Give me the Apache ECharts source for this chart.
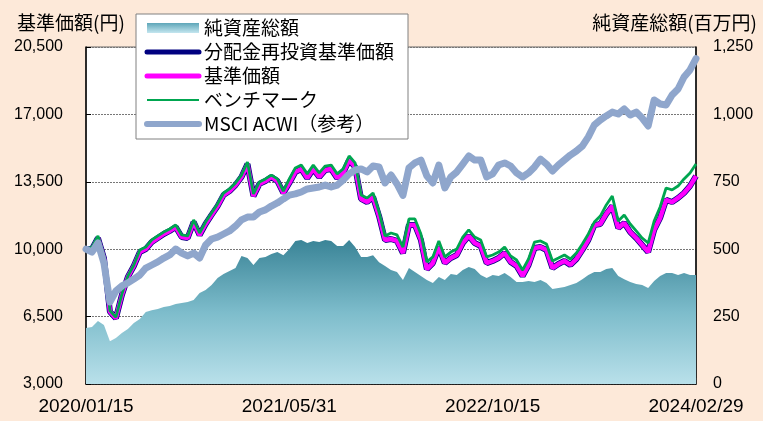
<!DOCTYPE html>
<html>
<head>
<meta charset="utf-8">
<script src="https://cdn.jsdelivr.net/npm/echarts@6/dist/echarts.min.js"></script>
<style>
  html, body { margin: 0; padding: 0; background: #fde9d9; }
  #chart { width: 763px; height: 421px; }
</style>
</head>
<body>
<div id="chart"></div>
<script>
// x軸の目盛ラベル（34点ごと）
const dateLabels = ['2020/01/15', '2021/05/31', '2022/10/15', '2024/02/29']
const labelStep = 34
const leftTicks = [3000, 6500, 10000, 13500, 17000, 20500]

// 基準価額（分配金再投資基準価額も同値）
const navValues = [
  10000, 10010, 10580, 9540, 6750, 6420, 7620, 8560, 9130, 9850,
  10010, 10370, 10580, 10790, 10950, 11150, 10630, 10580, 11410, 10740,
  11310, 11780, 12240, 12810, 13020, 13330, 13750, 14420, 12760, 13390,
  13540, 13750, 13540, 12920, 13440, 14010, 14160, 13700, 14160, 13750,
  14110, 14160, 13700, 13960, 14630, 14270, 12610, 12450, 12710, 11720,
  10480, 10530, 10430, 9800, 11260, 11260, 10480, 8960, 9280, 10110,
  9280, 9540, 9700, 10320, 10690, 10320, 10170, 9280, 9390, 9540,
  9800, 9340, 9130, 8610, 9180, 10060, 10110, 9960, 9020, 9230,
  9390, 9180, 9490, 9960, 10480, 11250, 11310, 11830, 12240, 11100,
  11360, 10890, 10580, 10220, 9850, 11000, 11620, 12560, 12450, 12660,
  12920, 13280, 13800
]
// ベンチマーク
const benchValues = [
  10000, 10110, 10690, 9650, 6800, 6470, 7670, 8610, 9180, 9960,
  10110, 10480, 10690, 10890, 11050, 11260, 10740, 10690, 11520, 10840,
  11410, 11880, 12350, 12920, 13130, 13440, 13850, 14530, 12870, 13490,
  13650, 13850, 13650, 13020, 13650, 14220, 14370, 13910, 14370, 13960,
  14320, 14370, 13910, 14170, 14840, 14480, 12820, 12660, 12920, 11930,
  10690, 10840, 10740, 10110, 11570, 11570, 10790, 9340, 9600, 10430,
  9600, 9850, 10010, 10630, 11000, 10630, 10480, 9600, 9700, 9850,
  10110, 9650, 9440, 8920, 9490, 10370, 10430, 10270, 9390, 9540,
  9700, 9490, 9800, 10270, 10790, 11410, 11720, 12300, 12760, 11460,
  11780, 11310, 10950, 10580, 10320, 11460, 12190, 13180, 13080, 13280,
  13650, 13960, 14420
]
// MSCI ACWI（参考）
const msciValues = [
  10000, 9850, 10320, 9280, 7260, 7830, 8090, 8250, 8450, 8660,
  9020, 9180, 9340, 9540, 9700, 10010, 9800, 9650, 9800, 9540,
  10220, 10530, 10630, 10790, 10950, 11200, 11520, 11670, 11670, 11930,
  12040, 12240, 12400, 12610, 12810, 12870, 12970, 13130, 13180, 13230,
  13330, 13230, 13330, 13590, 13910, 14110, 14170, 14010, 14320, 14270,
  13440, 13850, 13390, 12800, 14220, 14480, 14630, 13800, 13440, 14370,
  13180, 13750, 14010, 14420, 14840, 14630, 14630, 13750, 13910, 14370,
  14480, 14320, 13960, 13750, 13960, 14270, 14680, 14420, 14060, 14370,
  14630, 14890, 15100, 15360, 15830, 16450, 16710, 16920, 17120, 17020,
  17280, 16970, 17120, 16810, 16400, 17750, 17540, 17490, 18010, 18320,
  18940, 19310, 19900
]
// 純資産総額（百万円）
const assetValues = [
  208, 211, 234, 219, 159, 171, 189, 204, 226, 241,
  267, 274, 278, 286, 289, 297, 300, 304, 312, 338,
  349, 367, 393, 408, 419, 430, 475, 467, 441, 467,
  471, 482, 490, 478, 501, 530, 534, 523, 530, 527,
  534, 530, 512, 512, 534, 508, 471, 471, 478, 452,
  438, 423, 415, 386, 430, 415, 401, 386, 375, 397,
  386, 408, 404, 423, 434, 427, 404, 393, 404, 401,
  412, 397, 378, 378, 382, 378, 386, 375, 352, 356,
  360, 367, 375, 389, 404, 415, 415, 427, 430, 401,
  389, 378, 371, 367, 356, 382, 401, 412, 412, 404,
  412, 404, 404
]

const jpFont = '"Noto Sans CJK JP", sans-serif'
const numFont = '"Liberation Sans", Arial, sans-serif'
const categories = navValues.map((v, i) => i)
const showTick = (i) => i % labelStep === 0

const areaColor = new echarts.graphic.LinearGradient(0, 0, 0, 1, [
    { offset: 0, color: '#3a8497' },
    { offset: 0.5, color: '#7dbccb' },
    { offset: 1, color: '#b9e0ea' }
])
const legendAreaColor = new echarts.graphic.LinearGradient(0, 0, 0, 1, [
    { offset: 0, color: '#5ea6b8' },
    { offset: 1, color: '#c4e6ef' }
])
// 凡例の線アイコンは記号なし
const noMarker = { opacity: 0, borderWidth: 0 }

const chart = echarts.init(document.getElementById('chart'))

const option = {
    animation: false,
    backgroundColor: '#fde9d9',
    title: [
        {
            text: '基準価額(円)', left: 12, top: 8,
            textStyle: { fontFamily: jpFont, fontSize: 19, fontWeight: 'normal', color: '#000' }
        },
        {
            text: '純資産総額(百万円)', right: 1, top: 8,
            textStyle: { fontFamily: jpFont, fontSize: 19, fontWeight: 'normal', color: '#000' }
        }
    ],
    legend: {
        orient: 'vertical',
        left: 136,
        top: 14,
        padding: [4, 14, 5, 8],
        itemGap: 4,
        itemWidth: 52,
        itemHeight: 10,
        itemTextGap: 5,
        backgroundColor: '#fff',
        borderColor: '#808080',
        borderWidth: 1,
        textStyle: { fontFamily: jpFont, fontSize: 19, color: '#000', lineHeight: 20 },
        data: [
            { name: '純資産総額', icon: 'rect', itemStyle: { color: legendAreaColor } },
            { name: '分配金再投資基準価額', itemStyle: noMarker, lineStyle: { width: 5, cap: 'round' } },
            { name: '基準価額', itemStyle: noMarker, lineStyle: { width: 5, cap: 'round' } },
            { name: 'ベンチマーク', itemStyle: noMarker, lineStyle: { width: 2 } },
            { name: 'MSCI ACWI（参考）', itemStyle: noMarker, lineStyle: { width: 6, cap: 'round' } }
        ]
    },
    grid: {
        left: 86, right: 67, top: 47, bottom: 37,
        show: true, backgroundColor: '#fff', borderColor: '#666', borderWidth: 1
    },
    xAxis: {
        type: 'category',
        data: categories,
        boundaryGap: false,
        axisLine: { lineStyle: { color: '#000', width: 1.5 } },
        axisTick: { inside: true, length: 6, interval: showTick, lineStyle: { color: '#333' } },
        axisLabel: {
            interval: showTick,
            formatter: (v, i) => dateLabels[i / labelStep],
            fontFamily: numFont, fontSize: 19, color: '#000', margin: 13, lineHeight: 20
        },
        splitLine: { show: false }
    },
    yAxis: [
        {
            type: 'value', min: 3000, max: 20500, position: 'left',
            splitLine: { show: false },
            axisLine: { show: true, lineStyle: { color: '#000', width: 1.5 } },
            axisTick: { show: true, inside: true, length: 5, customValues: leftTicks, lineStyle: { color: '#000' } },
            axisLabel: {
                customValues: leftTicks,
                formatter: (v) => v.toLocaleString('en-US'),
                fontFamily: numFont, fontSize: 16, color: '#000', margin: 23
            }
        },
        {
            type: 'value', min: 0, max: 1250, interval: 250, position: 'right',
            splitLine: { show: true, lineStyle: { color: '#777', type: [2, 1], width: 1 } },
            axisLine: { show: true, lineStyle: { color: '#000', width: 1.5 } },
            axisTick: { inside: true, length: 6, lineStyle: { color: '#000' } },
            axisLabel: {
                formatter: (v) => v.toLocaleString('en-US'),
                fontFamily: numFont, fontSize: 16, color: '#000', margin: 17
            }
        }
    ],
    series: [
        {
            name: '純資産総額', type: 'line', yAxisIndex: 1, data: assetValues,
            symbol: 'none', lineStyle: { width: 0 },
            itemStyle: { color: '#5ea6b8' },
            areaStyle: { color: areaColor, opacity: 1 }
        },
        {
            name: '分配金再投資基準価額', type: 'line', data: navValues, symbol: 'none',
            itemStyle: { color: '#000080' }, lineStyle: { color: '#000080', width: 6 }
        },
        {
            name: '基準価額', type: 'line', data: navValues, symbol: 'none',
            itemStyle: { color: '#ff00ff' }, lineStyle: { color: '#ff00ff', width: 4.5 }
        },
        {
            name: 'ベンチマーク', type: 'line', data: benchValues, symbol: 'none',
            itemStyle: { color: '#00a650' }, lineStyle: { color: '#00a650', width: 2.8 }
        },
        {
            name: 'MSCI ACWI（参考）', type: 'line', data: msciValues, symbol: 'none',
            itemStyle: { color: '#8fa6cc' }, lineStyle: { color: '#8fa6cc', width: 7, cap: 'round', join: 'round' }
        }
    ]
}

chart.setOption(option)
</script>
</body>
</html>
